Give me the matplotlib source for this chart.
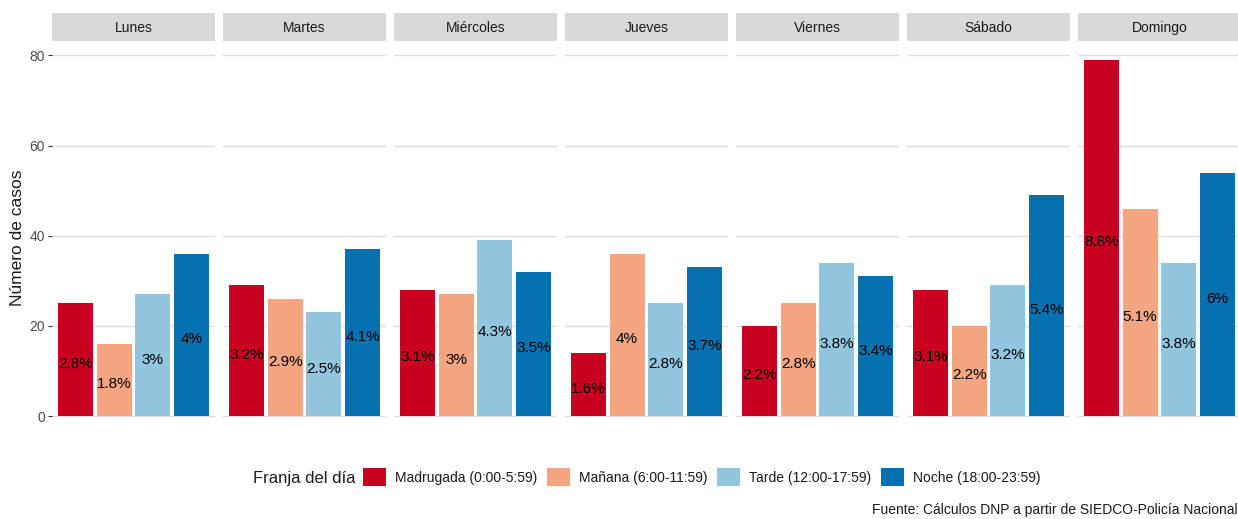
import matplotlib
matplotlib.use("Agg")
import matplotlib.pyplot as plt
from matplotlib.patches import Patch

plt.rcParams['font.family'] = ['Liberation Sans', 'DejaVu Sans']

# Datos por día y franja horaria
dias = ["Lunes", "Martes", "Miércoles", "Jueves", "Viernes", "Sábado", "Domingo"]
franjas = ["Madrugada (0:00-5:59)", "Mañana (6:00-11:59)",
           "Tarde (12:00-17:59)", "Noche (18:00-23:59)"]
colores = ["#CA0020", "#F4A582", "#92C5DE", "#0571B0"]

casos = [
    [25, 16, 27, 36],
    [29, 26, 23, 37],
    [28, 27, 39, 32],
    [14, 36, 25, 33],
    [20, 25, 34, 31],
    [28, 20, 29, 49],
    [79, 46, 34, 54],
]
porcentajes = [
    ["2.8%", "1.8%", "3%", "4%"],
    ["3.2%", "2.9%", "2.5%", "4.1%"],
    ["3.1%", "3%", "4.3%", "3.5%"],
    ["1.6%", "4%", "2.8%", "3.7%"],
    ["2.2%", "2.8%", "3.8%", "3.4%"],
    ["3.1%", "2.2%", "3.2%", "5.4%"],
    ["8.8%", "5.1%", "3.8%", "6%"],
]

W, H = 1238, 519
fig = plt.figure(figsize=(W / 100, H / 100), dpi=100)

ymax = max(max(c) for c in casos)
ylim = (-0.05 * ymax, 1.05 * ymax)

left0, pw, step = 52, 163, 171
top, bottom = 42, 434

for i, dia in enumerate(dias):
    x0 = left0 + i * step
    ax = fig.add_axes([x0 / W, 1 - bottom / H, pw / W, (bottom - top) / H])
    xs = [1, 2, 3, 4]
    ax.bar(xs, casos[i], width=0.9, color=colores, zorder=2)
    for x, v, lab in zip(xs, casos[i], porcentajes[i]):
        ax.annotate(lab, (x, v / 2), xytext=(0, -2), textcoords="offset points",
                    ha="center", va="center_baseline", fontsize=11,
                    color="black", zorder=3)
    ax.set_xlim(0.4, 4.6)
    ax.set_ylim(*ylim)
    ax.set_yticks([0, 20, 40, 60, 80])
    ax.grid(axis="y", color="#DEDEDE", linewidth=1, zorder=0)
    ax.set_xticks([])
    for s in ax.spines.values():
        s.set_visible(False)
    if i == 0:
        ax.tick_params(axis="y", length=3, width=0.8, color="#333333",
                       labelsize=10, labelcolor="#4D4D4D", pad=2)
        ax.set_ylabel("Número de casos", fontsize=12.5, color="#1A1A1A",
                      labelpad=3)
    else:
        ax.tick_params(axis="y", length=0, labelleft=False)

    # tira del facet
    sax = fig.add_axes([x0 / W, 1 - 41 / H, pw / W, 28 / H])
    sax.set_facecolor("#D9D9D9")
    sax.set_xticks([])
    sax.set_yticks([])
    for s in sax.spines.values():
        s.set_visible(False)
    sax.text(0.5, 0.45, dia, ha="center", va="center", fontsize=10,
             color="#1A1A1A", transform=sax.transAxes)

# Leyenda
fig.text(253 / W, 1 - 478 / H, "Franja del día", fontsize=12,
         color="#1A1A1A", ha="left", va="center")
handles = [Patch(facecolor=c, edgecolor="none") for c in colores]
fig.legend(handles, franjas, loc="center left",
           bbox_to_anchor=(353 / W, 1 - 477 / H), ncol=4, frameon=False,
           fontsize=10, handlelength=1.65, handleheight=1.7,
           handletextpad=0.65, columnspacing=0.72, borderpad=0.2,
           labelcolor="#1A1A1A")

fig.text(872 / W, 1 - 510 / H,
         "Fuente: Cálculos DNP a partir de SIEDCO-Policía Nacional",
         fontsize=10, color="#1A1A1A", ha="left", va="center")

fig.savefig("out.png", dpi=100)
